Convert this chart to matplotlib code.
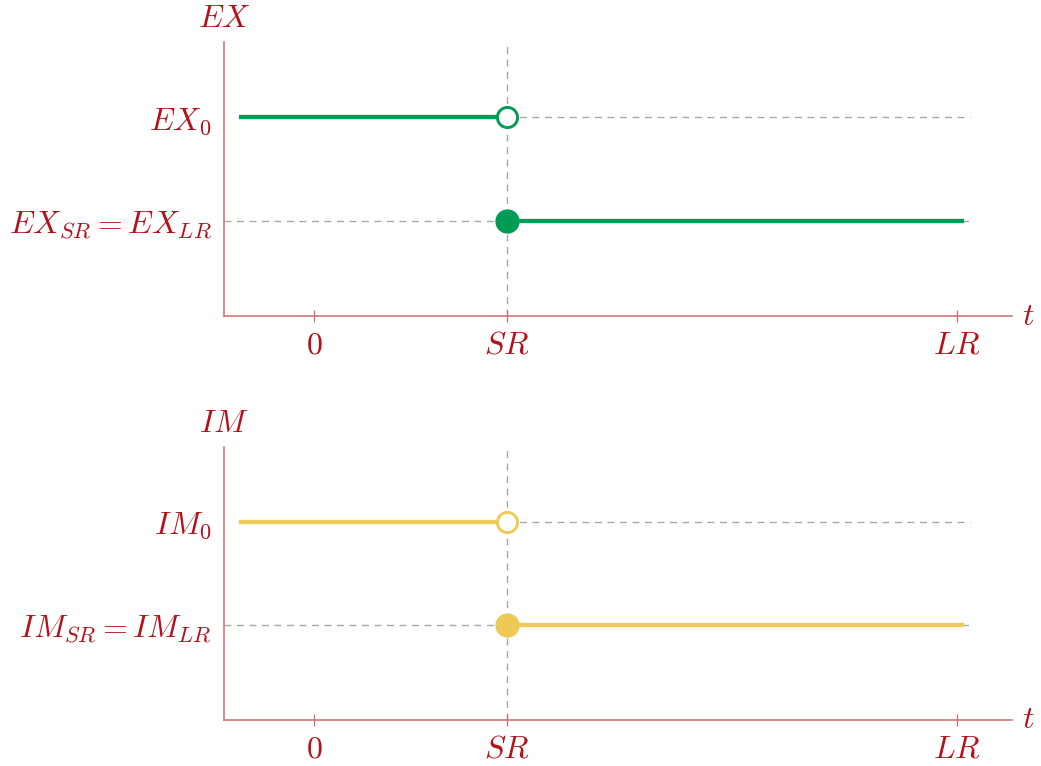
import numpy as np
import matplotlib
matplotlib.use('Agg')
from matplotlib import pyplot as plt

plt.rcParams['mathtext.fontset'] = 'cm'
plt.rcParams['font.family'] = 'serif'
plt.rcParams['font.serif'] = ['DejaVu Serif']

# positions on the time axis
t_ticks = [0, 1, 3.33]
t_labels = [r'$0$', r'$SR$', r'$LR$']
t_start, t_shock, t_end = -0.39, 1, 3.37

# levels before and after the shock
ex_levels = [2, 1]
ex_labels = [r'$EX_0$', r'$EX_{SR} = EX_{LR}$']
im_levels = [2, 1]
im_labels = [r'$IM_0$', r'$IM_{SR} = IM_{LR}$']

texto = '#b3121b'
eixo = '#d36a6a'
verde = '#009b55'
amarelo = '#ecca55'
cinza = '#a8a8a8'
fs = 23


def painel(ax, niveis, rotulos, cor, nome):
    alto, baixo = niveis
    ax.set_xlim(-0.466, 3.617)
    ax.set_ylim(0.08, 2.73)

    # dashed guides
    ax.axvline(t_shock, color=cinza, lw=1.0, dashes=(5, 4), zorder=1)
    ax.plot([t_shock, 3.40], [alto, alto], color=cinza, lw=1.0, dashes=(5, 4), zorder=1)
    ax.plot([-0.466, 3.40], [baixo, baixo], color=cinza, lw=1.0, dashes=(5, 4), zorder=1)

    # path before and after the shock
    ax.plot([t_start, t_shock], [alto, alto], color=cor, lw=3.1, solid_capstyle='butt', zorder=2)
    ax.plot([t_shock, t_end], [baixo, baixo], color=cor, lw=3.1, solid_capstyle='butt', zorder=2)
    ax.plot(t_shock, alto, 'o', ms=14.5, mfc='white', mec=cor, mew=2.1, zorder=3)
    ax.plot(t_shock, baixo, 'o', ms=16.5, mfc=cor, mec=cor, zorder=3)

    for s in ['top', 'right']:
        ax.spines[s].set_visible(False)
    for s in ['left', 'bottom']:
        ax.spines[s].set_color(eixo)
        ax.spines[s].set_linewidth(1.1)

    ax.set_xticks(t_ticks)
    ax.set_xticklabels(t_labels)
    ax.set_yticks(niveis)
    ax.set_yticklabels(rotulos)
    ax.tick_params(axis='x', direction='inout', length=8, width=0.9, color=eixo,
                   labelcolor=texto, labelsize=fs, pad=6)
    ax.tick_params(axis='y', length=0, labelcolor=texto, labelsize=fs, pad=9)

    ax.annotate(r'$t$', xy=(1, 0), xycoords='axes fraction', xytext=(7, 0),
                textcoords='offset points', color=texto, fontsize=fs, ha='left', va='center')
    ax.annotate(nome, xy=(0, 1), xycoords='axes fraction', xytext=(0, 6),
                textcoords='offset points', color=texto, fontsize=fs, ha='center', va='bottom')


fig = plt.figure(figsize=(10.41, 7.66), dpi=100)
ax1 = fig.add_axes([224 / 1041, 1 - 316 / 766, 788 / 1041, 274 / 766])
ax2 = fig.add_axes([224 / 1041, 1 - 720 / 766, 788 / 1041, 273 / 766])

painel(ax1, ex_levels, ex_labels, verde, r'$EX$')
painel(ax2, im_levels, im_labels, amarelo, r'$IM$')

fig.savefig('out.png', dpi=100)
